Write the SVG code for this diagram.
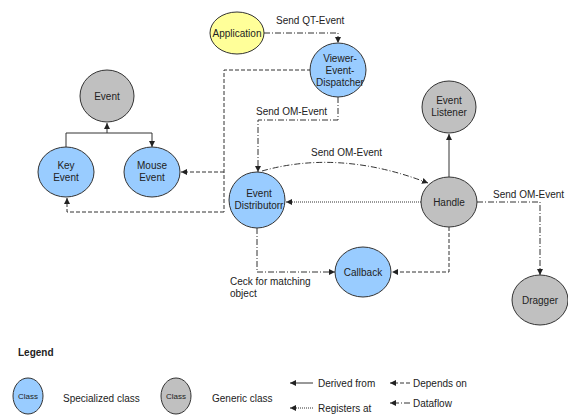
<svg xmlns="http://www.w3.org/2000/svg" width="568" height="415" viewBox="0 0 568 415">
<style>
text{font-family:"Liberation Sans",Arial,sans-serif;font-size:10px;fill:#222}
.m{text-anchor:middle}
.spec{fill:#99ccff;stroke:#333;stroke-width:1}
.gen{fill:#c0c0c0;stroke:#333;stroke-width:1}
.app{fill:#ffff99;stroke:#333;stroke-width:1}
.c{fill:none;stroke:#333;stroke-width:1}
.der{marker-end:url(#ah)}
.dep{stroke-dasharray:4,2;marker-end:url(#ah)}
.reg{stroke-dasharray:1,1;marker-end:url(#ah)}
.flow{stroke-dasharray:6,2,1,2;marker-end:url(#ah)}
.nm{stroke-dasharray:4,2}
.nf{stroke-dasharray:6,2,1,2}
</style>
<defs>
<marker id="ah" viewBox="0 0 8 8" refX="8" refY="4" markerWidth="6" markerHeight="6" markerUnits="userSpaceOnUse" orient="auto">
<path d="M0,0 L8,4 L0,8 z" fill="#222"/>
</marker>
</defs>
<g id="connectors">
<path class="c flow" d="M264,33 H338 V43"/>
<text x="276" y="24">Send QT-Event</text>
<path class="c nm" d="M311,70 H224 V212"/>
<path class="c dep" d="M224,172 H181"/>
<path class="c dep" d="M224,212 H67 V198"/>
<path class="c der" d="M66,147 V133 H152 V147"/>
<path class="c der" d="M107,133 V123"/>
<path class="c flow" d="M338,97 V120 H258 V172"/>
<text x="256" y="115">Send OM-Event</text>
<path class="c flow" d="M262,171 Q340,149 428,183"/>
<text x="311" y="156">Send OM-Event</text>
<path class="c reg" d="M421,202 H286"/>
<path class="c der" d="M449,177 V134"/>
<path class="c dep" d="M449,227 V272 H392"/>
<path class="c flow" d="M257,228 V272 H335"/>
<text x="230" y="285">Ceck for matching</text>
<text x="230" y="297">object</text>
<path class="c flow" d="M477,202 H540 V275"/>
<text x="493" y="198">Send OM-Event</text>
</g>
<g id="application"><ellipse class="app" cx="237" cy="33" rx="27" ry="21"/><text class="m" x="237" y="37">Application</text></g>
<g id="viewer-event-dispatcher"><ellipse class="spec" cx="338" cy="70" rx="28" ry="27"/><text class="m" x="340" y="62">Viewer-</text><text class="m" x="340" y="74">Event-</text><text class="m" x="340" y="86">Dispatcher</text></g>
<g id="event"><ellipse class="gen" cx="107" cy="96" rx="27" ry="26"/><text class="m" x="107" y="100">Event</text></g>
<g id="key-event"><ellipse class="spec" cx="66" cy="172" rx="28" ry="25"/><text class="m" x="66" y="169">Key</text><text class="m" x="66" y="181">Event</text></g>
<g id="mouse-event"><ellipse class="spec" cx="152" cy="172" rx="28" ry="25"/><text class="m" x="152" y="169">Mouse</text><text class="m" x="152" y="181">Event</text></g>
<g id="event-distributor"><ellipse class="spec" cx="257" cy="200" rx="28" ry="28"/><text class="m" x="259" y="197">Event</text><text class="m" x="259" y="209">Distributorr</text></g>
<g id="event-listener"><ellipse class="gen" cx="449" cy="107" rx="27" ry="26"/><text class="m" x="449" y="104">Event</text><text class="m" x="449" y="116">Listener</text></g>
<g id="handle"><ellipse class="gen" cx="449" cy="202" rx="28" ry="25"/><text class="m" x="449" y="206">Handle</text></g>
<g id="callback"><ellipse class="spec" cx="363" cy="272" rx="28" ry="25"/><text class="m" x="363" y="276">Callback</text></g>
<g id="dragger"><ellipse class="gen" cx="540" cy="300" rx="28" ry="25"/><text class="m" x="540" y="304">Dragger</text></g>
<g id="legend">
<text x="18" y="356" style="font-weight:bold">Legend</text>
<ellipse class="spec" cx="28" cy="396" rx="15" ry="18"/><text class="m" x="28" y="399" style="font-size:8px">Class</text>
<text x="63" y="402">Specialized class</text>
<ellipse class="gen" cx="176" cy="396" rx="15" ry="18"/><text class="m" x="176" y="399" style="font-size:8px">Class</text>
<text x="212" y="402">Generic class</text>
<path class="c der" d="M313,383 H290"/><text x="318" y="387">Derived from</text>
<path class="c reg" d="M313,408 H290"/><text x="318" y="412">Registers at</text>
<path class="c dep" d="M410,383 H390"/><text x="413" y="387">Depends on</text>
<path class="c flow" d="M410,403 H390"/><text x="413" y="407">Dataflow</text>
</g>
</svg>
